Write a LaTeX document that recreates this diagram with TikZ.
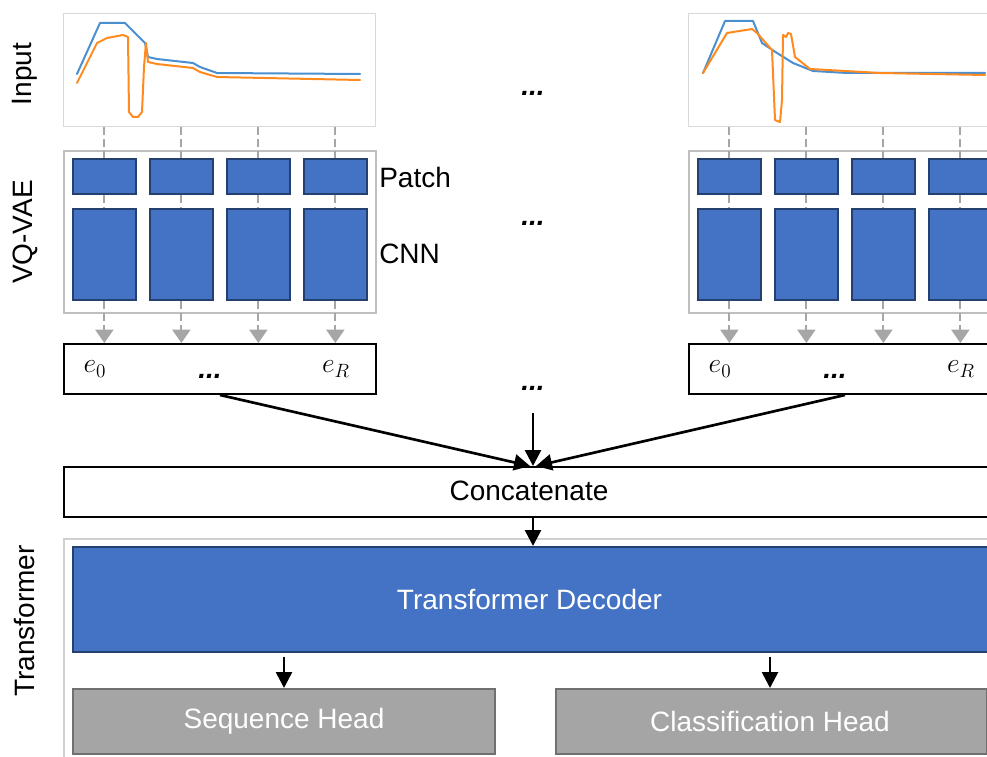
\documentclass[tikz,border=0pt]{standalone}
\usepackage{fontspec}
\setmainfont{Liberation Sans}
\usetikzlibrary{arrows.meta,calc}
\definecolor{blu}{HTML}{4472C4}
\definecolor{bluedge}{HTML}{24406F}
\definecolor{plotedge}{HTML}{D9D9D9}
\definecolor{vqedge}{HTML}{BFBFBF}
\definecolor{dashgray}{HTML}{A6A6A6}
\definecolor{headfill}{HTML}{A5A5A5}
\definecolor{headedge}{HTML}{707070}
\definecolor{transedge}{HTML}{D0D0D0}
\definecolor{mplblue}{HTML}{4A8FD0}
\definecolor{mplorange}{HTML}{FF8A1F}
\begin{document}
\begin{tikzpicture}[x=0.75pt,y=-0.75pt,
  txt/.style={font=\fontsize{21}{25}\selectfont, inner sep=0pt},
  sized/.style 2 args={minimum width=#1*0.75pt, minimum height=#2*0.75pt},
  rect/.style={draw, inner sep=0pt, anchor=north west},
  plotbox/.style={rect, draw=plotedge, line width=1.1pt},
  vqbox/.style={rect, draw=vqedge, line width=1.5pt},
  bluebox/.style={rect, draw=bluedge, fill=blu, line width=1.3pt},
  ebox/.style={rect, draw=black, line width=1.5pt},
  headbox/.style={rect, draw=headedge, fill=headfill, line width=1.5pt},
  dashline/.style={draw=dashgray, line width=1.5pt, dash pattern=on 6pt off 3pt},
  dasharrow/.style={dashline, -{Triangle[width=13.5pt,length=10pt]}},
  blk/.style={draw=black, line width=2pt, -{Triangle[width=12pt,length=12pt]}},
  curve/.style={line width=1.5pt, line join=round, line cap=round}
]
\useasboundingbox (0,0) rectangle (987,756);
\clip (0,0) rectangle (987,756);

% side labels
\node[txt, rotate=90] (lblin) at (25,74) {Input};
\node[txt, rotate=90] (lblvq) at (25,232) {VQ-VAE};
\node[txt, rotate=90] (lbltr) at (25,621) {Transformer};

\foreach \s/\o in {L/0,R/625} {
  \node[plotbox, sized={312}{113}] (plot\s) at ({63+\o},13) {};
  \node[vqbox, sized={312}{162}] (vq\s) at ({63+\o},150) {};
  \node[ebox, sized={312}{50}] (e\s) at ({63+\o},343) {};
  \node[txt] (ez\s) at ({95+\o},369) {$e_0$};
  \node[txt] (ed\s) at ({210+\o},376) {\textbf{\textit{...}}};
  \node[txt] (er\s) at ({336+\o},369) {$e_R$};
  \foreach \i in {1,...,4} {
    \node[bluebox, sized={63}{35}] (patch\s\i) at ({72+77*(\i-1)+\o},158) {};
    \node[bluebox, sized={63}{91}] (cnn\s\i) at ({72+77*(\i-1)+\o},208) {};
    \draw[dashline] (patch\s\i.north |- plot\s.south) -- (patch\s\i.north);
    \draw[dashline] (patch\s\i.south) -- (cnn\s\i.north);
    \draw[dasharrow] (cnn\s\i.south) -- (cnn\s\i.south |- e\s.north);
  }
}

\node[txt, anchor=west] (patchlbl) at (379,177) {Patch};
\node[txt, anchor=west] (cnnlbl) at (379,254) {CNN};

% input curves (left)
\draw[curve, mplblue] plot coordinates {(77,74) (100,23) (125,23) (145,43) (148,57) (157,59) (193,63) (200,67) (217,73) (360,74)};
\draw[curve, mplorange] plot coordinates {(77,83) (97,43) (107,38) (123,35) (128,37) (129,112) (133,117) (138,117) (142,112) (144,67) (146,43) (148,62) (157,64) (193,68) (200,72) (217,77) (360,80)};
% input curves (right)
\draw[curve, mplblue] plot coordinates {(703,73) (725,21) (753,21) (762,43) (777,53) (793,63) (813,71) (847,73) (985,73)};
\draw[curve, mplorange] plot coordinates {(703,73) (727,33) (752,29) (757,33) (772,50) (775,120) (780,122) (782,100) (783,35) (786,37) (788,33) (791,34) (795,57) (810,69) (880,73) (985,75)};

% middle dots
\node[txt] (dots1) at (533,93) {\textbf{\textit{...}}};
\node[txt] (dots2) at (533,223) {\textbf{\textit{...}}};
\node[txt] (dots3) at (533,388) {\textbf{\textit{...}}};
\coordinate (midstart) at (533,413);

% concatenate
\node[ebox, sized={938}{50}] (concat) at (63,466) {};
\node[txt] (concattxt) at (529,491) {Concatenate};

\draw[blk] (eL.south) -- ($(concat.north)+(-3,0)$);
\draw[blk] (eR.south) -- ($(concat.north)+(3,0)$);
\draw[blk] (midstart) -- (midstart |- concat.north);

% transformer
\node[rect, draw=transedge, line width=1.5pt, sized={932}{250}] (trans) at (63,538) {};
\node[bluebox, sized={915}{105}] (dec) at (72,546) {};
\node[txt, text=white] (dectxt) at (529.5,599) {Transformer Decoder};
\draw[blk] (concat.south -| midstart) -- (midstart |- dec.north);

\node[headbox, sized={422}{65}] (seq) at (72,688) {};
\node[txt, text=white] (seqtxt) at (284,721) {Sequence Head};
\node[headbox, sized={431}{65}] (cls) at (555,688) {};
\node[txt, text=white] (clstxt) at (770,721) {Classification Head};

\draw[blk, shorten <=3pt] (dec.south -| seqtxt) -- (seqtxt |- seq.north);
\draw[blk, shorten <=3pt] (dec.south -| clstxt) -- (clstxt |- cls.north);
\end{tikzpicture}
\end{document}
